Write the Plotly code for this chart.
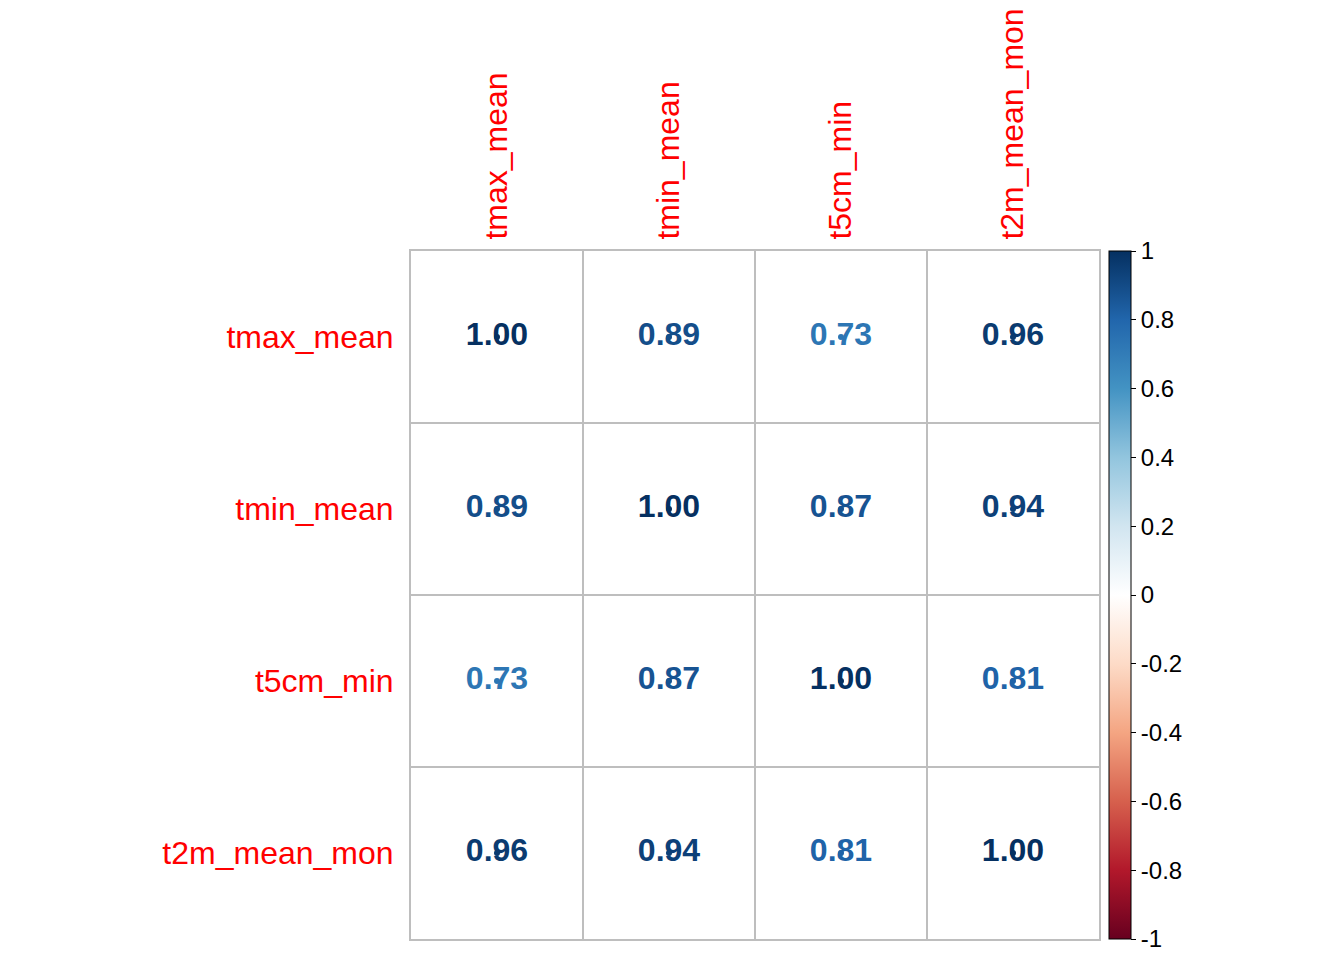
import plotly.graph_objects as go

variables = ["tmax_mean", "tmin_mean", "t5cm_min", "t2m_mean_mon"]
corr = [
    [1.00, 0.89, 0.73, 0.96],
    [0.89, 1.00, 0.87, 0.94],
    [0.73, 0.87, 1.00, 0.81],
    [0.96, 0.94, 0.81, 1.00],
]
cbar_ticks = [-1, -0.8, -0.6, -0.4, -0.2, 0, 0.2, 0.4, 0.6, 0.8, 1]
cbar_labels = ["-1", "-0.8", "-0.6", "-0.4", "-0.2", "0", "0.2", "0.4", "0.6", "0.8", "1"]

palette = ["#67001F", "#B2182B", "#D6604D", "#F4A582", "#FDDBC7", "#FFFFFF",
           "#D1E5F0", "#92C5DE", "#4393C3", "#2166AC", "#053061"]


def hex2rgb(h):
    h = h.lstrip("#")
    return tuple(int(h[i:i + 2], 16) for i in (0, 2, 4))


def value_color(v):
    pos = (v + 1) / 2 * (len(palette) - 1)
    i = min(int(pos), len(palette) - 2)
    t = pos - i
    a, b = hex2rgb(palette[i]), hex2rgb(palette[i + 1])
    c = [round(a[k] + (b[k] - a[k]) * t) for k in range(3)]
    return "rgb(%d,%d,%d)" % tuple(c)


colorscale = [[k / (len(palette) - 1), c] for k, c in enumerate(palette)]

xs, ys, texts, colors, vals = [], [], [], [], []
for i, row in enumerate(variables):
    for j, col in enumerate(variables):
        v = corr[i][j]
        xs.append(col)
        ys.append(row)
        texts.append("%.2f" % v)
        colors.append(value_color(v))
        vals.append(v)

fig = go.Figure()
fig.add_trace(go.Scatter(
    x=xs, y=ys, mode="text", text=texts,
    textposition="middle center",
    textfont=dict(family="Liberation Sans", size=32, color=colors, weight="bold"),
    hoverinfo="skip", showlegend=False, cliponaxis=False,
))
fig.add_trace(go.Scatter(
    x=xs, y=ys, mode="markers",
    marker=dict(size=0, color=vals, colorscale=colorscale, cmin=-1, cmax=1,
                showscale=True,
                colorbar=dict(
                    x=(1108 - 410) / 688, xanchor="left", xref="paper",
                    y=0.5, yanchor="middle", len=1, lenmode="fraction",
                    thickness=22, xpad=0, ypad=0,
                    outlinecolor="black", outlinewidth=1,
                    tickvals=cbar_ticks, ticktext=cbar_labels,
                    ticks="outside", ticklen=5, tickcolor="black",
                    tickfont=dict(family="Liberation Sans", size=24, color="black"),
                )),
    hoverinfo="skip", showlegend=False,
))

n = len(variables)
fig.update_layout(
    width=1344, height=960,
    margin=dict(l=403, r=253, t=243, b=29, autoexpand=False),
    paper_bgcolor="white", plot_bgcolor="white",
    font=dict(family="Liberation Sans"),
)
fig.update_xaxes(
    type="category", categoryorder="array", categoryarray=variables,
    range=[-0.5, n - 0.5], autorange=False, automargin=False,
    side="top", tickangle=-90, tickson="boundaries",
    ticks="", showgrid=True, gridcolor="#BEBEBE", gridwidth=2,
    showline=True, mirror=True, linecolor="#BEBEBE", linewidth=2,
    tickfont=dict(family="Liberation Sans", size=32, color="red"),
    ticklabelstandoff=3, zeroline=False, fixedrange=True,
)
fig.update_yaxes(
    type="category", categoryorder="array", categoryarray=variables[::-1],
    range=[-0.5, n - 0.5], autorange=False, automargin=False,
    tickson="boundaries",
    ticks="", showgrid=True, gridcolor="#BEBEBE", gridwidth=2,
    showline=True, mirror=True, linecolor="#BEBEBE", linewidth=2,
    tickfont=dict(family="Liberation Sans", size=32, color="red"),
    ticklabelstandoff=9, zeroline=False, fixedrange=True,
)

fig.write_html("out.html")
